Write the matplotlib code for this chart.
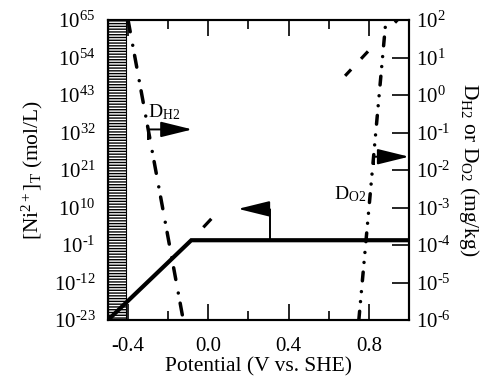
import numpy as np
import matplotlib
matplotlib.use("Agg")
import matplotlib.pyplot as plt

plt.rcParams.update({
    "font.family": "Liberation Serif",
    "mathtext.fontset": "custom",
    "mathtext.rm": "Liberation Serif",
    "mathtext.it": "Liberation Serif:italic",
    "mathtext.bf": "Liberation Serif:bold",
    "font.size": 15,
    "lines.scale_dashes": False,
    "hatch.linewidth": 1.0,
})

# ---- data ----
# total dissolved Ni (left axis): solid part, then dashed extension above the kink
ni_E = [-0.5, -0.085, 1.0]
ni_logc = [-23.0, 0.4, 0.4]
ni_ext_E = [-0.085, 0.95]
ni_ext_logc = [0.4, 65.5]
# H2 and O2 thresholds (right axis, mg/kg)
dh2_E = [-0.40, -0.125]
dh2_logD = [2.0, -6.0]
do2_E = [0.75, 0.885]
do2_logD = [-6.0, 2.0]
# shaded region (potential range)
shade_E = (-0.5, -0.41)

left_exp = list(range(-23, 66, 11))
right_exp = list(range(-6, 3))
x_major = [-0.4, 0.0, 0.4, 0.8]
x_minor = [-0.2, 0.2, 0.6]


def pow10(k):
    # hyphen instead of the math minus, as in the original figure
    return "$10^{%s}$" % str(k).replace("-", "\u2010")


fig = plt.figure(figsize=(4.85, 3.81), dpi=100)
ax = fig.add_axes([108 / 485, 1 - 320 / 381, 301 / 485, 300 / 381])
ax2 = ax.twinx()

ax.set_yscale("log")
ax2.set_yscale("log")
ax.set_xlim(-0.5, 1.0)
ax.set_ylim(10.0 ** -23, 10.0 ** 65)
ax2.set_ylim(1e-6, 1e2)

ax.axvspan(*shade_E, facecolor="white", edgecolor="black", hatch="------",
           lw=0.8, zorder=1)

ax.plot(ni_E, 10.0 ** np.array(ni_logc), color="k", lw=3.0,
        solid_joinstyle="miter", zorder=3)
ax.plot(ni_ext_E, 10.0 ** np.array(ni_ext_logc), color="k", lw=2.3,
        dashes=[0.001, 12.7, 8.4, 141, 6.3, 10.5, 7.3, 28.4, 7.2, 300],
        dash_capstyle="butt", zorder=3)

ax2.plot(dh2_E, 10.0 ** np.array(dh2_logD), color="k", lw=2.5,
         dashes=[8.6, 9.9, 0.01, 7.4], dash_capstyle="round", zorder=3)
ax2.plot(do2_E, 10.0 ** np.array(do2_logD), color="k", lw=2.5,
         dashes=[6.3, 7.0, 0.01, 7.2, 0.01, 7.8], dash_capstyle="round", zorder=3)


# axis-pointer arrows
def elbow_arrow(x0, y_low, y_arm, x_tip):
    ax.plot([x0, x0], [10.0 ** y_low, 10.0 ** y_arm], color="k", lw=1.4,
            solid_capstyle="butt")
    ax.annotate("", xy=(x_tip, 10.0 ** y_arm), xytext=(x0, 10.0 ** y_arm),
                arrowprops=dict(arrowstyle="-|>,head_length=1.3,head_width=0.32",
                                color="k", lw=1.4, shrinkA=0, shrinkB=0))


elbow_arrow(-0.30, 29.9, 32.9, -0.08)   # D_H2 -> right axis
elbow_arrow(0.305, 0.4, 9.6, 0.148)     # Ni -> left axis
elbow_arrow(0.825, 22.5, 24.9, 1.0)     # D_O2 -> right axis

ax.text(-0.30, 10.0 ** 35.0, r"D$_{\mathrm{H2}}$", fontsize=14,
        ha="left", va="bottom")
ax.text(0.625, 10.0 ** 11.0, r"D$_{\mathrm{O2}}$", fontsize=14,
        ha="left", va="bottom")

ax.set_xticks(x_major)
ax.set_xticklabels([f"{v:.1f}".replace("-", "\u2010") for v in x_major])
ax.set_xticks(x_minor, minor=True)
ax.set_yticks([10.0 ** k for k in left_exp])
ax.set_yticklabels([pow10(k) for k in left_exp])
ax.yaxis.set_minor_locator(matplotlib.ticker.NullLocator())
ax2.set_yticks([10.0 ** k for k in right_exp])
ax2.set_yticklabels([pow10(k) for k in right_exp])
ax2.yaxis.set_minor_locator(matplotlib.ticker.NullLocator())

ax.tick_params(axis="x", which="major", direction="in", length=11.5, width=1.2,
               top=True, pad=12)
ax.tick_params(axis="x", which="minor", direction="in", length=6.5, width=1.2,
               top=True)
ax.tick_params(axis="y", which="major", direction="in", length=0, pad=9)
ax2.tick_params(axis="y", which="major", direction="in", length=12.5, width=1.2,
                pad=5)

for a in (ax, ax2):
    for s in a.spines.values():
        s.set_linewidth(1.5)

ax.set_xlabel("Potential (V vs. SHE)", fontsize=15.5, labelpad=1)
ax.set_ylabel(r"[Ni$^{2+}$]$_{\mathrm{T}}$ (mol/L)", fontsize=15.5, labelpad=6)
ax2.set_ylabel(r"D$_{\mathrm{H2}}$ or D$_{\mathrm{O2}}$ (mg/kg)", fontsize=15.5,
               rotation=270, labelpad=22)

fig.savefig("out.png", dpi=100)
